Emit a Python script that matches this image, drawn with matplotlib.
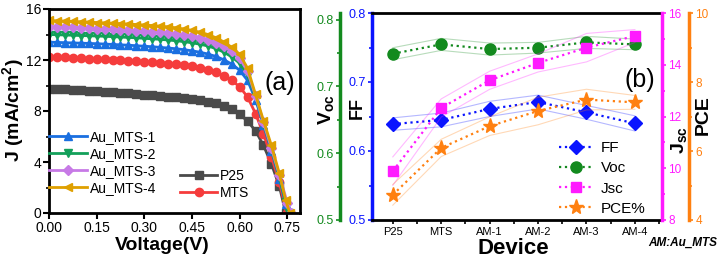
import numpy as np
import matplotlib
matplotlib.use('Agg')
import matplotlib.pyplot as plt
from matplotlib.ticker import MultipleLocator, FormatStrFormatter

plt.rcParams['font.family'] = ['Liberation Sans', 'DejaVu Sans']
plt.rcParams['mathtext.default'] = 'regular'

# ---- J-V data (panel a) ----
v_grid = [0.000, 0.025, 0.050, 0.075, 0.100, 0.125, 0.150, 0.175, 0.200, 0.225,
          0.250, 0.275, 0.300, 0.325, 0.350, 0.375, 0.400, 0.425, 0.450, 0.475,
          0.500, 0.525, 0.550, 0.575, 0.600, 0.625, 0.650, 0.675, 0.700, 0.725]

j_p25 = [9.75, 9.73, 9.70, 9.66, 9.62, 9.58, 9.55, 9.50, 9.46, 9.42,
         9.38, 9.33, 9.28, 9.23, 9.18, 9.12, 9.06, 9.00, 8.92, 8.84,
         8.74, 8.60, 8.40, 8.12, 7.75, 7.20, 6.45, 5.30, 3.85, 2.10]
j_mts = [12.25, 12.22, 12.20, 12.17, 12.14, 12.10, 12.07, 12.04, 12.00, 11.97,
         11.94, 11.90, 11.86, 11.82, 11.77, 11.72, 11.66, 11.59, 11.50, 11.39,
         11.25, 11.05, 10.78, 10.40, 9.90, 9.10, 7.80, 6.20, 4.40, 2.40]
j_am1 = [13.40, 13.38, 13.36, 13.34, 13.32, 13.30, 13.28, 13.25, 13.22, 13.19,
         13.16, 13.12, 13.08, 13.04, 12.99, 12.94, 12.88, 12.81, 12.72, 12.61,
         12.47, 12.28, 12.02, 11.68, 11.20, 10.40, 8.90, 6.90, 4.90, 2.70]
j_am2 = [14.00, 13.98, 13.96, 13.94, 13.92, 13.90, 13.88, 13.86, 13.83, 13.80,
         13.77, 13.74, 13.70, 13.66, 13.62, 13.57, 13.51, 13.44, 13.35, 13.24,
         13.10, 12.90, 12.62, 12.25, 11.75, 10.85, 9.10, 7.00, 5.00, 2.80]
j_am3 = [14.62, 14.60, 14.58, 14.55, 14.52, 14.50, 14.47, 14.44, 14.41, 14.38,
         14.35, 14.31, 14.27, 14.23, 14.18, 14.12, 14.05, 13.97, 13.87, 13.74,
         13.58, 13.36, 13.07, 12.70, 12.15, 11.10, 9.20, 7.10, 5.10, 3.00]
j_am4 = [15.10, 15.07, 15.05, 15.02, 15.00, 14.97, 14.94, 14.91, 14.88, 14.85,
         14.82, 14.78, 14.74, 14.70, 14.65, 14.60, 14.52, 14.43, 14.32, 14.18,
         14.00, 13.75, 13.42, 13.00, 12.45, 11.35, 9.30, 7.25, 5.30, 3.10]

# tail points near Voc (V, J)
tail_p25 = ([0.745], [0.0])
tail_mts = ([0.748], [0.0])
tail_am1 = ([0.745, 0.752], [0.7, 0.0])
tail_am2 = ([0.745, 0.755], [0.9, 0.0])
tail_am3 = ([0.750, 0.762], [0.8, 0.0])
tail_am4 = ([0.745, 0.758], [1.0, 0.0])

# ---- device parameters (panel b) ----
devices = ['P25', 'MTS', 'AM-1', 'AM-2', 'AM-3', 'AM-4']
ff = [0.639, 0.645, 0.661, 0.671, 0.656, 0.640]
ff_err = [0.009, 0.010, 0.011, 0.010, 0.010, 0.011]
voc = [0.749, 0.763, 0.756, 0.758, 0.766, 0.763]
voc_err = [0.009, 0.009, 0.009, 0.008, 0.009, 0.008]
jsc = [9.89, 12.33, 13.40, 14.07, 14.66, 15.11]
jsc_err = [0.55, 0.35, 0.35, 0.35, 0.55, 0.25]
pce = [4.73, 6.09, 6.72, 7.16, 7.49, 7.41]
pce_err = [0.30, 0.25, 0.27, 0.40, 0.30, 0.20]

fig = plt.figure(figsize=(7.24, 2.61), dpi=100)

# ================= panel (a) =================
ax1 = fig.add_axes([49/724, 48/261, 251/724, 204/261])

curves = [
    ('Au_MTS-1', j_am1, tail_am1, '#1a6fe0', '^'),
    ('Au_MTS-2', j_am2, tail_am2, '#13a05a', 'v'),
    ('Au_MTS-3', j_am3, tail_am3, '#c77ae6', 'D'),
    ('Au_MTS-4', j_am4, tail_am4, '#dfa000', '<'),
]
other = [
    ('P25', j_p25, tail_p25, '#4a4a4a', 's'),
    ('MTS', j_mts, tail_mts, '#f53c3c', 'o'),
]

h_au = []
h_ref = []
for name, j, tail, col, mk in other:
    vv = list(v_grid) + tail[0]
    jj = list(j) + tail[1]
    ms = 5.5 if mk == 's' else 6
    h, = ax1.plot(vv, jj, color=col, marker=mk, ms=ms, lw=2, label=name)
    h_ref.append(h)
for name, j, tail, col, mk in curves:
    vv = list(v_grid) + tail[0]
    jj = list(j) + tail[1]
    ms = 5 if mk == 'D' else 6
    h, = ax1.plot(vv, jj, color=col, marker=mk, ms=ms, lw=2, label=name)
    h_au.append(h)

ax1.set_xlim(0, 0.79)
ax1.set_ylim(0, 16)
ax1.xaxis.set_major_locator(MultipleLocator(0.15))
ax1.yaxis.set_major_locator(MultipleLocator(4))
ax1.yaxis.set_minor_locator(MultipleLocator(2))
ax1.xaxis.set_major_formatter(FormatStrFormatter('%.2f'))
ax1.tick_params(axis='both', which='major', direction='out', length=4, width=1.5,
                labelsize=10, pad=1.5)
ax1.tick_params(axis='y', which='minor', direction='out', length=2.5, width=1.2)
for s in ax1.spines.values():
    s.set_linewidth(2)

leg1 = ax1.legend(handles=h_au, loc='upper left', bbox_to_anchor=(-0.01, 0.42),
                  frameon=False, fontsize=10, handlelength=2.7, handletextpad=0.2,
                  labelspacing=0.22, borderaxespad=0, borderpad=0.2)
ax1.add_artist(leg1)
ax1.legend(handles=h_ref, loc='upper left', bbox_to_anchor=(0.51, 0.23),
           frameon=False, fontsize=10, handlelength=2.7, handletextpad=0.2,
           labelspacing=0.22, borderaxespad=0, borderpad=0.2)

fig.text(280/724, 1 - 83/261, '(a)', fontsize=18, ha='center', va='center')
fig.text(162/724, 1 - 246/261, 'Voltage(V)', fontsize=14, fontweight='bold',
         ha='center', va='center')
fig.text(13/724, 1 - 110/261, 'J (mA/cm$^2$)', fontsize=14, fontweight='bold',
         ha='center', va='center', rotation=90)

# ================= panel (b) =================
x = np.arange(len(devices))
ax2 = fig.add_axes([372/724, 41/261, 290/724, 207/261])
ax_voc = ax2.twinx()
ax_jsc = ax2.twinx()
ax_pce = ax2.twinx()

c_ff = '#0a14ff'
c_voc = '#138a1e'
c_jsc = '#ff1aff'
c_pce = '#ff8010'

def band(ax, y, err, col):
    y = np.array(y)
    e = np.array(err)
    ax.plot(x, y + e, color=col, lw=0.8, alpha=0.3)
    ax.plot(x, y - e, color=col, lw=0.8, alpha=0.3)

band(ax2, ff, ff_err, c_ff)
band(ax_voc, voc, voc_err, c_voc)
band(ax_jsc, jsc, jsc_err, c_jsc)
band(ax_pce, pce, pce_err, c_pce)

h_ff, = ax2.plot(x, ff, ':', color=c_ff, lw=1.6, marker='D', ms=7, label='FF')
h_voc, = ax_voc.plot(x, voc, ':', color=c_voc, lw=1.6, marker='o', ms=8, label='Voc')
h_jsc, = ax_jsc.plot(x, jsc, ':', color=c_jsc, lw=1.6, marker='s', ms=7, label='Jsc')
h_pce, = ax_pce.plot(x, pce, ':', color=c_pce, lw=1.6, marker='*', ms=11, label='PCE%')

ax2.set_xlim(-0.43, 5.56)
ax2.set_xticks(x)
ax2.set_xticklabels(devices, fontsize=8)
ax2.xaxis.set_minor_locator(MultipleLocator(0.5))
ax2.tick_params(axis='x', which='both', direction='out', length=3, width=1.2, pad=2)

ax2.set_ylim(0.5, 0.8)
ax2.yaxis.set_major_locator(MultipleLocator(0.1))
ax2.yaxis.set_minor_locator(MultipleLocator(0.05))
ax2.tick_params(axis='y', which='both', colors=c_ff, labelsize=9, pad=1.5,
                direction='out', width=1.2)
ax2.tick_params(axis='y', which='major', length=3)
ax2.tick_params(axis='y', which='minor', length=2)

ax_voc.set_ylim(0.5, 0.81)
ax_voc.yaxis.set_ticks_position('left')
ax_voc.yaxis.set_label_position('left')
ax_voc.spines['left'].set_position(('axes', -0.11))
ax_voc.yaxis.set_major_locator(MultipleLocator(0.1))
ax_voc.yaxis.set_minor_locator(MultipleLocator(0.05))
ax_voc.tick_params(axis='y', which='both', colors=c_voc, labelsize=9, pad=1.5,
                   direction='out', width=1.2)
ax_voc.tick_params(axis='y', which='major', length=3)
ax_voc.tick_params(axis='y', which='minor', length=2)

ax_jsc.set_ylim(8, 16)
ax_jsc.yaxis.set_major_locator(MultipleLocator(2))
ax_jsc.yaxis.set_minor_locator(MultipleLocator(1))
ax_jsc.tick_params(axis='y', which='both', colors=c_jsc, labelsize=8.5, pad=1.5,
                   direction='out', width=1.2)
ax_jsc.tick_params(axis='y', which='major', length=3)
ax_jsc.tick_params(axis='y', which='minor', length=2)

ax_pce.set_ylim(4, 10)
ax_pce.spines['right'].set_position(('axes', 1.093))
ax_pce.yaxis.set_major_locator(MultipleLocator(2))
ax_pce.yaxis.set_minor_locator(MultipleLocator(1))
ax_pce.tick_params(axis='y', which='both', colors=c_pce, labelsize=8.5, pad=1.5,
                   direction='out', width=1.2)
ax_pce.tick_params(axis='y', which='major', length=3)
ax_pce.tick_params(axis='y', which='minor', length=2)

# spines
for s in ['top', 'bottom']:
    ax2.spines[s].set_linewidth(2)
    ax2.spines[s].set_color('black')
ax2.spines['left'].set_color(c_ff)
ax2.spines['left'].set_linewidth(2.5)
ax2.spines['right'].set_visible(False)
for a in (ax_voc, ax_jsc, ax_pce):
    a.spines['top'].set_visible(False)
    a.spines['bottom'].set_visible(False)
ax_voc.spines['right'].set_visible(False)
ax_voc.spines['left'].set_color(c_voc)
ax_voc.spines['left'].set_linewidth(2.5)
ax_jsc.spines['left'].set_visible(False)
ax_jsc.spines['right'].set_color(c_jsc)
ax_jsc.spines['right'].set_linewidth(2.5)
ax_pce.spines['left'].set_visible(False)
ax_pce.spines['right'].set_color(c_pce)
ax_pce.spines['right'].set_linewidth(2.5)

ax_pce.legend(handles=[h_ff, h_voc, h_jsc, h_pce], loc='upper left',
              bbox_to_anchor=(0.635, 0.395), frameon=False, fontsize=11,
              handlelength=2.2, handletextpad=0.5, labelspacing=0.4,
              borderaxespad=0, borderpad=0.2, numpoints=1)

fig.text(640/724, 1 - 80/261, '(b)', fontsize=18, ha='center', va='center')
fig.text(513/724, 1 - 248/261, 'Device', fontsize=16, fontweight='bold',
         ha='center', va='center')
fig.text(683/724, 1 - 243/261, 'AM:Au_MTS', fontsize=8.5, fontweight='bold',
         style='italic', ha='center', va='center')
fig.text(326/724, 1 - 110/261, 'V$_{oc}$', fontsize=14, fontweight='bold',
         ha='center', va='center', rotation=90)
fig.text(357/724, 1 - 108/261, 'FF', fontsize=13, fontweight='bold',
         ha='center', va='center', rotation=90)
fig.text(679/724, 1 - 140/261, 'J$_{sc}$', fontsize=14, fontweight='bold',
         ha='center', va='center', rotation=90)
fig.text(703/724, 1 - 115/261, 'PCE', fontsize=14, fontweight='bold',
         ha='center', va='center', rotation=90)

fig.savefig('out.png', dpi=100)
